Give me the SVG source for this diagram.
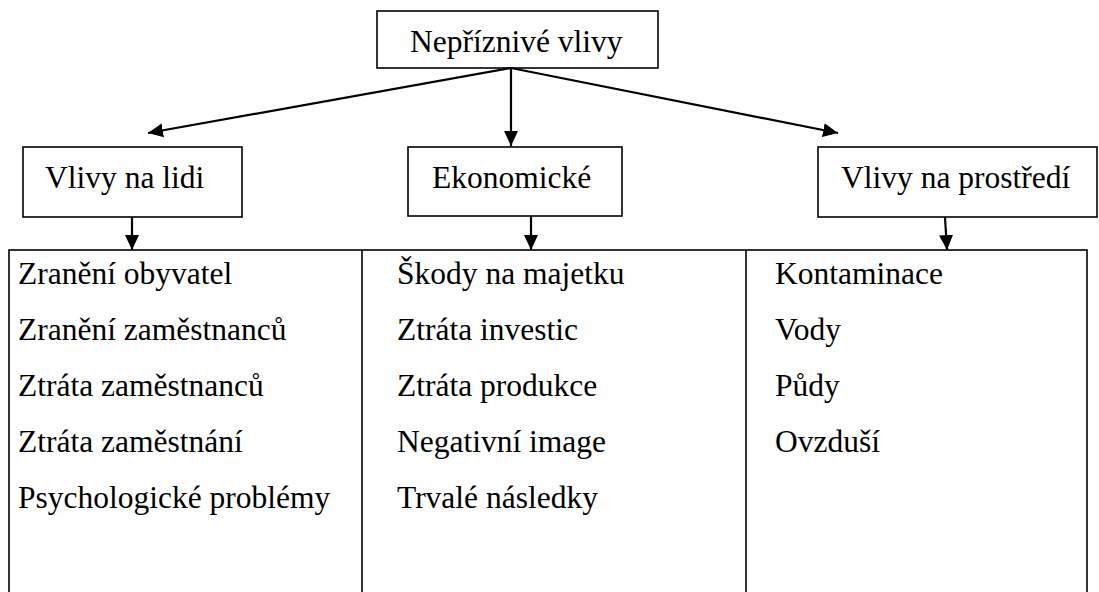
<svg xmlns="http://www.w3.org/2000/svg" width="1099" height="592" viewBox="0 0 1099 592">
<style>
.box{fill:#fff;stroke:#000;stroke-width:1.6}
.t{font-family:"Liberation Serif","Times New Roman",serif;font-size:31.5px;fill:#000}
.c{stroke:#000;stroke-width:2.2;fill:none;marker-end:url(#ah)}
</style>
<defs>
<marker id="ah" markerUnits="userSpaceOnUse" markerWidth="16" markerHeight="16" viewBox="0 0 16 16" refX="15" refY="8" orient="auto">
<path d="M0,1 L15,8 L0,15 Z" fill="#000"/>
</marker>
</defs>
<rect width="1099" height="592" fill="#fff"/>
<g id="root">
<rect class="box" x="377" y="11" width="281" height="57"/>
<text class="t" x="410" y="52">Nepříznivé vlivy</text>
</g>
<g id="lidi">
<rect class="box" x="23" y="147" width="219" height="70"/>
<text class="t" x="45" y="188">Vlivy na lidi</text>
</g>
<g id="ekonomicke">
<rect class="box" x="408" y="147" width="214" height="69"/>
<text class="t" x="432" y="188">Ekonomické</text>
</g>
<g id="prostredi">
<rect class="box" x="818" y="147" width="279" height="70"/>
<text class="t" x="841" y="188">Vlivy na prostředí</text>
</g>
<g id="details">
<rect class="box" x="9" y="250" width="1078" height="350"/>
<line x1="362" y1="250" x2="362" y2="600" stroke="#000" stroke-width="1.6"/>
<line x1="746" y1="250" x2="746" y2="600" stroke="#000" stroke-width="1.6"/>
</g>
<g id="list-lidi" class="t">
<text x="18" y="284">Zranění obyvatel</text>
<text x="18" y="340">Zranění zaměstnanců</text>
<text x="18" y="396">Ztráta zaměstnanců</text>
<text x="18" y="452">Ztráta zaměstnání</text>
<text x="18" y="508">Psychologické problémy</text>
</g>
<g id="list-ekonomicke" class="t">
<text x="397" y="284">Škody na majetku</text>
<text x="397" y="340">Ztráta investic</text>
<text x="397" y="396">Ztráta produkce</text>
<text x="397" y="452">Negativní image</text>
<text x="397" y="508">Trvalé následky</text>
</g>
<g id="list-prostredi" class="t">
<text x="775" y="284">Kontaminace</text>
<text x="775" y="340">Vody</text>
<text x="775" y="396">Půdy</text>
<text x="775" y="452">Ovzduší</text>
</g>
<g id="connectors">
<line class="c" x1="511" y1="68" x2="148" y2="133"/>
<line class="c" x1="511" y1="68" x2="511" y2="146"/>
<line class="c" x1="511" y1="68" x2="838" y2="133"/>
<line class="c" x1="132" y1="217" x2="132" y2="250"/>
<line class="c" x1="531" y1="216" x2="531" y2="250"/>
<line class="c" x1="945" y1="217" x2="947" y2="250"/>
</g>
</svg>
